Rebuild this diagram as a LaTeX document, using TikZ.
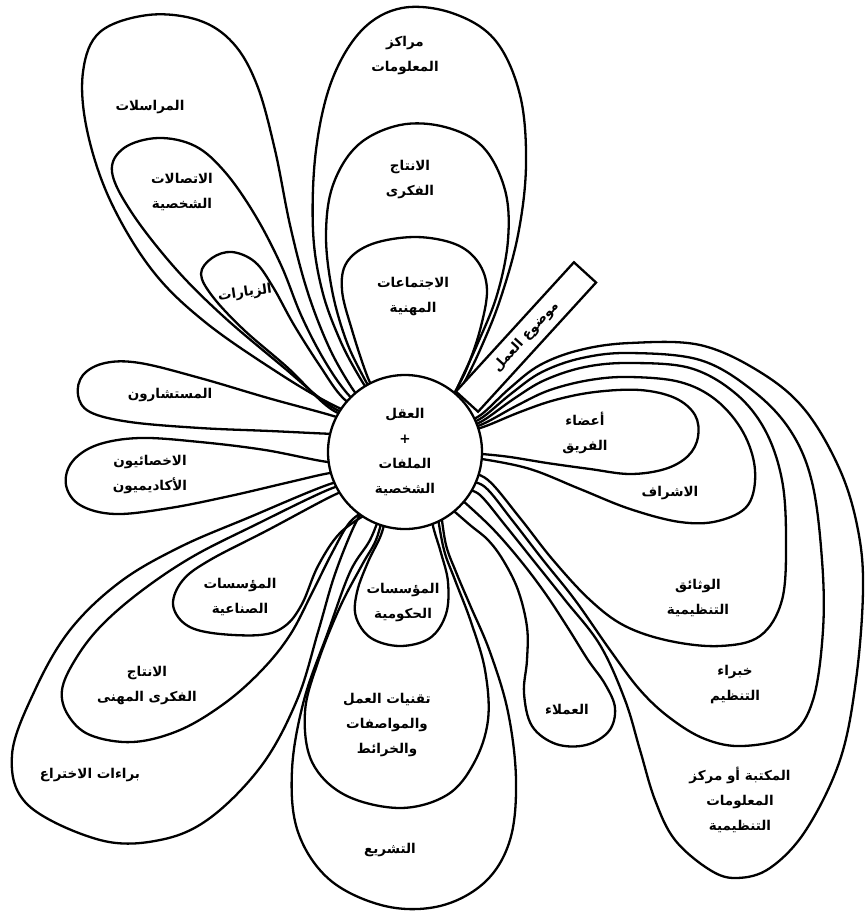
\documentclass[tikz,border=0pt]{standalone}
\usepackage{fontspec}
\newfontfamily\arabicfont[Script=Arabic]{DejaVu Sans}
\TeXXeTstate=1
\newcommand{\arl}[1]{\beginR #1\endR}
\begin{document}
\begin{tikzpicture}[x=1pt,y=-1pt,
  petal/.style={line width=2.3pt, line join=round, line cap=round},
  lbl/.style={font=\arabicfont\bfseries\fontsize{13.5}{25}\selectfont, align=center, inner sep=1pt}]
\fill[white] (0,0) rectangle (865,913);
\useasboundingbox (0,0) rectangle (865,913);

% ---------- top group ----------
\draw[petal] plot[smooth, tension=0.6] coordinates {(378,405) (360,378) (340,340) (322,290) (313,230) (316,150) (332,80) (362,30) (402,8) (452,13) (495,40) (520,95) (526,165) (518,235) (500,300) (480,350) (463,385) (450,410)};
\draw[petal] plot[smooth, tension=0.6] coordinates {(380,405) (364,378) (346,340) (332,290) (326,235) (333,185) (358,145) (400,125) (445,127) (483,147) (505,190) (508,240) (497,295) (477,345) (460,382) (448,410)};
\draw[petal] plot[smooth, tension=0.6] coordinates {(382,405) (368,378) (352,330) (342,290) (347,262) (372,244) (415,237) (455,244) (478,262) (487,290) (480,330) (467,368) (456,390) (446,410)};

% ---------- upper-left group ----------
\draw[petal] plot[smooth, tension=0.6] coordinates {(370,420) (333,405) (280,374) (205,322) (152,270) (110,200) (87,130) (83,72) (100,32) (148,15) (198,20) (233,43) (257,85) (275,150) (290,225) (307,290) (328,345) (350,385) (372,415)};
\draw[petal] plot[smooth, tension=0.6] coordinates {(370,422) (332,407) (282,366) (223,316) (175,268) (132,213) (112,172) (124,148) (158,138) (195,146) (225,172) (255,215) (281,265) (301,315) (323,358) (346,392) (372,417)};
\draw[petal] plot[smooth, tension=0.6] coordinates {(370,424) (331,409) (288,368) (244,330) (213,297) (201,274) (212,258) (232,252) (255,262) (273,287) (294,325) (320,366) (343,398) (372,419)};

% ---------- left petals ----------
\draw[petal] plot[smooth, tension=0.6] coordinates {(360,425) (330,415) (268,398) (200,378) (140,363) (105,363) (83,375) (78,395) (90,412) (130,422) (200,428) (270,431) (335,434) (360,434)};
\draw[petal] plot[smooth, tension=0.6] coordinates {(360,462) (328,462) (265,450) (200,442) (140,438) (97,445) (72,462) (66,485) (80,505) (115,514) (170,508) (230,496) (290,482) (330,473) (360,470)};

% ---------- lower-left group ----------
\draw[petal] plot[smooth, tension=0.6] coordinates {(360,480) (330,484) (250,517) (180,547) (120,582) (70,630) (35,690) (12,755) (28,805) (100,840) (160,840) (210,818) (262,765) (297,700) (318,632) (333,580) (348,540) (360,515) (370,505)};
\draw[petal] plot[smooth, tension=0.6] coordinates {(360,482) (330,489) (255,525) (192,557) (140,592) (100,627) (75,660) (62,690) (68,715) (90,735) (133,742) (180,730) (225,703) (262,670) (290,635) (312,593) (332,553) (350,522) (370,508)};
\draw[petal] plot[smooth, tension=0.6] coordinates {(360,485) (332,496) (268,530) (210,560) (183,580) (173,604) (185,624) (212,633) (260,635) (285,626) (302,604) (318,566) (340,533) (370,512)};

% ---------- bottom group ----------
\draw[petal] plot[smooth, tension=0.6] coordinates {(387,512) (381,535) (368,562) (357,592) (356,617) (371,638) (400,646) (430,638) (446,614) (448,582) (441,553) (434,530) (430,512)};
\draw[petal] plot[smooth, tension=0.6] coordinates {(384,512) (376,540) (362,565) (340,607) (318,662) (305,712) (312,762) (345,795) (400,808) (447,795) (474,763) (488,720) (485,670) (471,622) (455,580) (444,550) (437,512)};
\draw[petal] plot[smooth, tension=0.6] coordinates {(381,512) (370,540) (350,572) (328,632) (304,700) (292,770) (298,832) (330,880) (385,906) (440,906) (485,882) (510,840) (516,780) (508,712) (490,652) (470,605) (456,572) (446,545) (441,512)};

% ---------- clients ----------
\draw[petal] plot[smooth, tension=0.6] coordinates {(447,505) (470,525) (488,540) (503,560) (518,590) (527,627) (527,660) (524,693) (532,726) (556,744) (586,745) (609,731) (615,708) (605,684) (588,660) (568,628) (545,593) (520,560) (492,528) (462,500)};

% ---------- right group ----------
\draw[petal] plot[smooth, tension=0.6] coordinates {(466,432) (486,426) (520,412) (555,400) (595,392) (640,390) (675,398) (695,415) (698,437) (688,456) (665,469) (630,474) (590,469) (547,463) (510,457) (482,454) (466,453)};
\draw[petal] plot[smooth, tension=0.6] coordinates {(466,430) (485,423) (518,405) (550,390) (590,380) (630,377) (680,382) (716,400) (743,432) (755,470) (748,505) (718,521) (680,522) (630,509) (580,489) (530,469) (482,459) (466,458)};
\draw[petal] plot[smooth, tension=0.6] coordinates {(466,428) (484,420) (515,398) (545,380) (585,367) (630,363) (690,368) (735,393) (765,430) (782,480) (786,540) (782,600) (760,636) (720,646) (670,641) (625,626) (590,600) (553,560) (520,518) (488,480) (466,472)};
\draw[petal] plot[smooth, tension=0.6] coordinates {(466,425) (483,417) (512,393) (542,372) (582,358) (630,353) (700,360) (752,390) (790,430) (812,482) (822,560) (823,630) (813,700) (790,735) (743,746) (705,739) (670,718) (640,690) (610,650) (575,600) (543,560) (512,520) (485,487) (466,481)};
\draw[petal] plot[smooth, tension=0.6] coordinates {(466,422) (482,414) (510,388) (540,365) (580,350) (630,343) (700,345) (760,372) (805,410) (840,470) (858,530) (863,590) (856,680) (840,760) (806,830) (770,868) (737,878) (710,870) (675,840) (655,800) (640,750) (625,700) (600,645) (565,600) (533,560) (505,525) (480,495) (466,490)};

% ---------- topic bar ----------
\node[draw, fill=white, line width=2.3pt, minimum width=175pt, minimum height=30pt, inner sep=0pt, rotate=47.6, font=\arabicfont\bfseries\fontsize{13.5}{16}\selectfont] (topic) at (526,337) {\arl{موضوع العمل}\hspace{40pt}};

% ---------- core ----------
\node[circle, draw, fill=white, line width=2.3pt, minimum size=154pt, inner sep=0pt, lbl] (core) at (405,452) {\arl{العقل}\\+\\\arl{الملفات}\\\arl{الشخصية}};

% ---------- labels ----------
\node[lbl] (l1) at (405,56) {\arl{مراكز}\\\arl{المعلومات}};
\node[lbl] (l2) at (410,180) {\arl{الانتاج}\\\arl{الفكرى}};
\node[lbl] (l3) at (413,297) {\arl{الاجتماعات}\\\arl{المهنية}};
\node[lbl] (l4) at (150,107) {\arl{المراسلات}};
\node[lbl] (l5) at (182,192) {\arl{الاتصالات}\\\arl{الشخصية}};
\node[lbl, rotate=8] (l6) at (245,293) {\arl{الزيارات}};
\node[lbl] (l7) at (170,395) {\arl{المستشارون}};
\node[lbl] (l8) at (150,475) {\arl{الاخصائيون}\\\arl{الأكاديميون}};
\node[lbl] (l9) at (240,597) {\arl{المؤسسات}\\\arl{الصناعية}};
\node[lbl] (l10) at (147,686) {\arl{الانتاج}\\\arl{الفكرى المهنى}};
\node[lbl] (l11) at (90,775) {\arl{براءات الاختراع}};
\node[lbl] (l12) at (403,603) {\arl{المؤسسات}\\\arl{الحكومية}};
\node[lbl] (l13) at (387,725) {\arl{تقنيات العمل}\\\arl{والمواصفات}\\\arl{والخرائط}};
\node[lbl] (l14) at (390,850) {\arl{التشريع}};
\node[lbl] (l15) at (567,710) {\arl{العملاء}};
\node[lbl] (l16) at (585,433) {\arl{أعضاء}\\\arl{الفريق}};
\node[lbl] (l17) at (670,493) {\arl{الاشراف}};
\node[lbl] (l18) at (698,598) {\arl{الوثائق}\\\arl{التنظيمية}};
\node[lbl] (l19) at (735,685) {\arl{خبراء}\\\arl{التنظيم}};
\node[lbl] (l20) at (740,800) {\arl{المكتبة أو مركز}\\\arl{المعلومات}\\\arl{التنظيمية}};
\end{tikzpicture}
\end{document}
